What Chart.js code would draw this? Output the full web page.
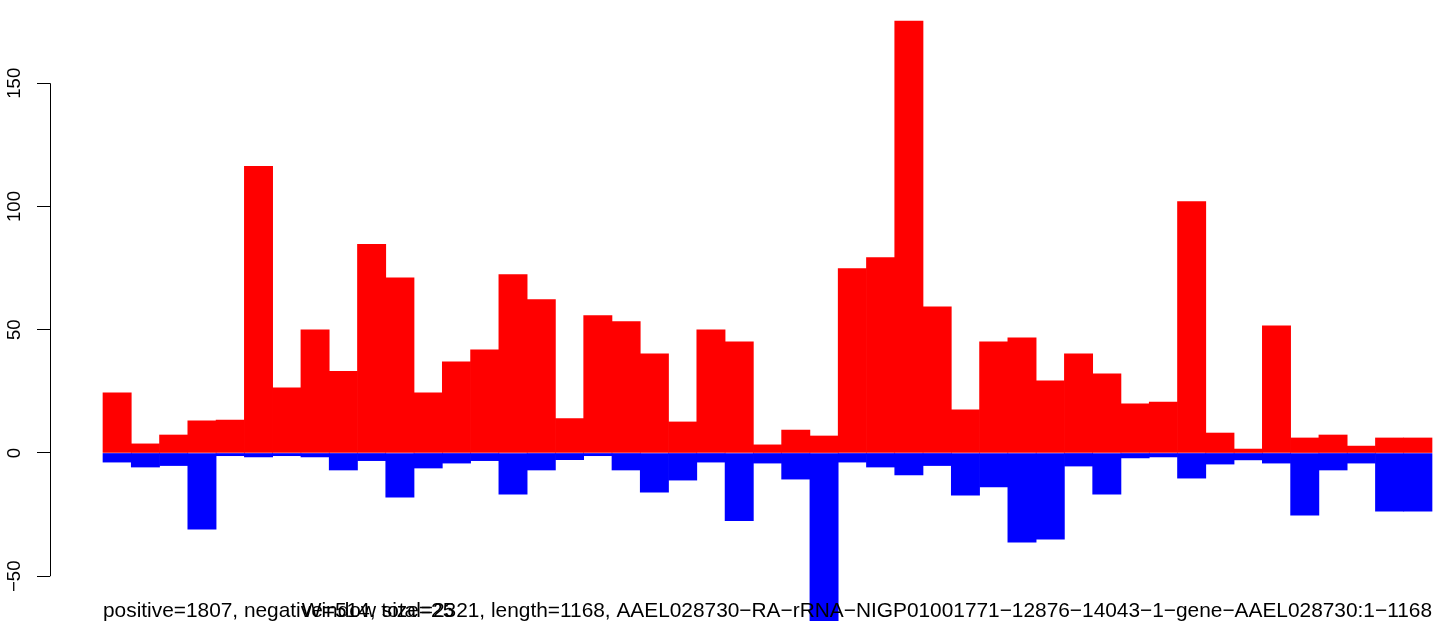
<!DOCTYPE html>
<html>
<head>
<meta charset="utf-8">
<script src="https://cdn.jsdelivr.net/npm/chart.js@4"></script>
<style>
  html, body { margin: 0; padding: 0; background: #fff; overflow: hidden; }
  #c { display: block; }
</style>
</head>
<body>
<canvas id="c" width="1433" height="625"></canvas>
<script>
// window index along the transcript (47 windows of 25 nt)
const windows = Array.from({ length: 47 }, (_, i) => i);
const positive = [24.4, 3.7, 7.3, 13.0, 13.4, 116.3, 26.4, 50.0, 33.1, 84.6, 71.1, 24.4, 37.0, 41.9, 72.4, 62.2,
                  14.0, 55.7, 53.3, 40.2, 12.6, 50.0, 45.1, 3.3, 9.3, 6.9, 74.8, 79.3, 175.2, 59.3, 17.5,
                  45.1, 46.7, 29.3, 40.2, 32.1, 19.9, 20.7, 102.0, 8.1, 1.6, 51.6, 6.1, 7.3, 2.8, 6.1, 6.1];
const negative = [-3.7, -5.7, -5.1, -30.9, -1.1, -1.6, -1.1, -1.6, -6.9, -3.1, -17.9, -6.1, -4.1, -3.1, -16.7, -6.9,
                  -2.7, -1.1, -6.9, -15.9, -11.0, -3.7, -27.5, -4.1, -10.6, -68.0, -3.7, -5.7, -8.9, -5.1, -17.1,
                  -13.8, -36.2, -35.0, -5.3, -16.7, -2.0, -1.6, -10.2, -4.5, -2.8, -4.1, -25.2, -6.9, -4.1, -23.6, -23.6];
const yTicks = [-50, 0, 50, 100, 150];
const subText = 'positive=1807, negative=514, total=2321, length=1168, AAEL028730\u2212RA\u2212rRNA\u2212NIGP01001771\u221212876\u221214043\u22121\u2212gene\u2212AAEL028730:1\u22121168';
const windowText = 'Window size=25';

const FONT = '"Liberation Sans", Arial, Helvetica, sans-serif';

const rAxis = {
    id: 'rAxis',
    afterDraw(chart) {
        const ctx = chart.ctx;
        const y = chart.scales.y;
        const x0 = chart.chartArea.left;
        ctx.save();
        ctx.strokeStyle = '#000';
        ctx.lineWidth = 1;
        ctx.beginPath();
        ctx.moveTo(x0 + 0.5, y.getPixelForValue(yTicks[0]));
        ctx.lineTo(x0 + 0.5, y.getPixelForValue(yTicks[yTicks.length - 1]));
        ctx.stroke();

        ctx.fillStyle = '#000';
        ctx.font = '18.5px ' + FONT;
        ctx.textAlign = 'center';
        ctx.textBaseline = 'alphabetic';
        yTicks.forEach(v => {
            ctx.save();
            ctx.translate(20, y.getPixelForValue(v));
            ctx.rotate(-Math.PI / 2);
            ctx.fillText(String(v).replace('-', '\u2212'), 0, 0);
            ctx.restore();
        });

        // bottom annotations, overlapping as in the original; sub text spans the bar area
        const x = chart.scales.x;
        const left = x.getPixelForValue(windows[0] - 0.5);
        const right = x.getPixelForValue(windows[windows.length - 1] + 0.5);
        ctx.font = '20px ' + FONT;
        const size = 20 * (right - left) / ctx.measureText(subText).width;
        ctx.font = size.toFixed(2) + 'px ' + FONT;
        ctx.textAlign = 'center';
        ctx.fillText(subText, (left + right) / 2, 617);
        ctx.fillText(windowText, 378, 617);
        ctx.restore();
    }
};

new Chart(document.getElementById('c'), {
    type: 'bar',
    data: {
        datasets: [{
            label: 'positive',
            data: windows.map(i => ({ x: i, y: positive[i] })),
            backgroundColor: '#ff0000',
            borderWidth: 0
        }, {
            label: 'negative',
            data: windows.map(i => ({ x: i, y: negative[i] })),
            backgroundColor: '#0000ff',
            borderWidth: 0
        }]
    },
    options: {
        responsive: false,
        animation: false,
        devicePixelRatio: 1,
        layout: { padding: 0 },
        datasets: { bar: { categoryPercentage: 1, barPercentage: 1 } },
        plugins: { legend: { display: false }, tooltip: { enabled: false }, title: { display: false } },
        scales: {
            x: {
                type: 'linear',
                stacked: true,
                display: false,
                offset: false,
                grid: { offset: false },
                min: -2.374,
                max: 46.535,
                ticks: { stepSize: 1, includeBounds: false }
            },
            y: {
                stacked: true,
                min: -69.78,
                max: 183.77,
                afterFit: s => { s.width = 50; },
                afterBuildTicks: s => { s.ticks = yTicks.map(v => ({ value: v })); },
                grid: { drawOnChartArea: false, drawTicks: true, tickLength: 13, color: '#000', lineWidth: 1 },
                border: { display: false },
                ticks: { display: false }
            }
        }
    },
    plugins: [rAxis]
});
</script>
</body>
</html>
